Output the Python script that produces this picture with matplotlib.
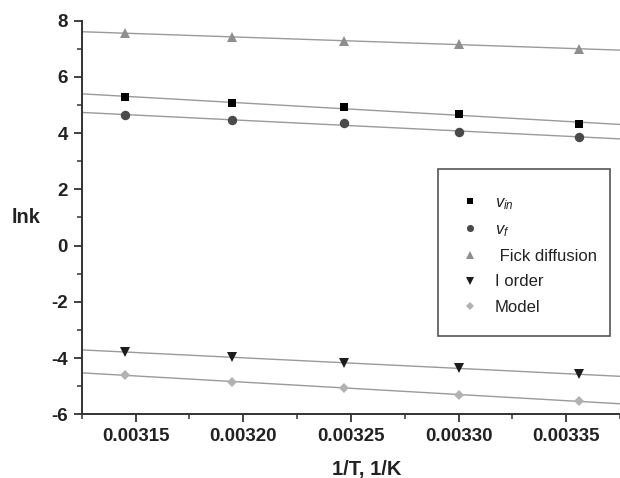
import numpy as np
import matplotlib
matplotlib.use("Agg")
import matplotlib.pyplot as plt
from matplotlib.patches import Rectangle
from matplotlib.ticker import MultipleLocator, FormatStrFormatter

plt.rcParams["font.family"] = ["Liberation Sans", "DejaVu Sans"]
plt.rcParams["mathtext.fontset"] = "custom"
plt.rcParams["mathtext.it"] = "Liberation Sans:italic"
plt.rcParams["mathtext.rm"] = "Liberation Sans"
plt.rcParams["axes.unicode_minus"] = False

# inverse temperature, 1/K (318, 313, 308, 303, 298 K)
inv_T = [0.003145, 0.003195, 0.003247, 0.003300, 0.003356]

# ln k for each kinetic description
lnk_vin = [5.29, 5.06, 4.93, 4.69, 4.33]
lnk_vf = [4.63, 4.47, 4.37, 4.03, 3.86]
lnk_fick = [7.55, 7.43, 7.28, 7.17, 6.99]
lnk_first = [-3.80, -3.95, -4.17, -4.37, -4.58]
lnk_model = [-4.60, -4.84, -5.08, -5.30, -5.53]

series = [
    (lnk_vin, r"$v_{in}$", "s", "#000000", 6.2),
    (lnk_vf, r"$v_{f}$", "o", "#4a4a4a", 6.8),
    (lnk_fick, " Fick diffusion", "^", "#8e8e8e", 7.0),
    (lnk_first, "I order", "v", "#1c1c1c", 7.0),
    (lnk_model, "Model", "D", "#b2b2b2", 5.4),
]

x_lo, x_hi = 0.003125, 0.003375

fig = plt.figure(figsize=(6.2, 4.78), dpi=100)
ax = fig.add_axes([0.1318, 0.1333, 0.8682, 0.8234])

x = np.array(inv_T)
xx = np.array([x_lo, x_hi])
handles = []
for vals, label, marker, color, ms in series:
    slope, icpt = np.polyfit(x, np.array(vals), 1)
    ax.plot(xx, slope * xx + icpt, color="#9a9a9a", lw=1.0, zorder=1)
    h, = ax.plot(x, vals, linestyle="none", marker=marker, color=color,
                 markersize=ms, markeredgewidth=0, label=label, zorder=3)
    handles.append(h)

ax.set_xlim(x_lo, x_hi)
ax.set_ylim(-6, 8)

ax.xaxis.set_major_locator(MultipleLocator(0.00005))
ax.xaxis.set_minor_locator(MultipleLocator(0.000025))
ax.xaxis.set_major_formatter(FormatStrFormatter("%.5f"))
ax.yaxis.set_major_locator(MultipleLocator(2))
ax.yaxis.set_minor_locator(MultipleLocator(1))

for side in ("top", "right"):
    ax.spines[side].set_visible(False)
for side in ("left", "bottom"):
    ax.spines[side].set_linewidth(1.4)
    ax.spines[side].set_color("#333333")

ax.tick_params(which="major", direction="out", length=6, width=1.3,
               color="#333333", labelsize=13.5, pad=4)
ax.tick_params(which="minor", direction="out", length=3.5, width=1.1,
               color="#333333")
for lab in ax.get_xticklabels() + ax.get_yticklabels():
    lab.set_fontweight("bold")
    lab.set_color("#222222")

ax.set_xlabel("1/T, 1/K", fontsize=14.5, fontweight="bold", color="#222222")
ax.xaxis.set_label_coords(0.529, -0.14)
ax.xaxis.label.set_va("center")
ax.set_ylabel("lnk", fontsize=14.5, fontweight="bold", color="#222222",
              rotation=0)
ax.yaxis.set_label_coords(-0.103, 0.5)
ax.yaxis.label.set_va("center")
ax.yaxis.label.set_ha("center")

# legend frame
ax_l, ax_b, ax_w, ax_h = 81.7, 414.3, 538.3, 393.6
def to_ax(px, py):
    return (px - ax_l) / ax_w, (ax_b - py) / ax_h

bx0, by0 = to_ax(437.7, 335.8)
bx1, by1 = to_ax(609.7, 169.3)
ax.add_patch(Rectangle((bx0, by0), bx1 - bx0, by1 - by0, transform=ax.transAxes,
                       fill=True, facecolor="white", edgecolor="#555555",
                       lw=1.2, zorder=4))

lx, ly = to_ax(462, 195)
leg = ax.legend(handles=handles, loc="upper left", bbox_to_anchor=(lx, ly),
                frameon=False, fontsize=12, markerscale=0.75,
                handlelength=1.0, handletextpad=0.95, labelspacing=0.62,
                borderpad=0.0, borderaxespad=0.0)
leg.set_zorder(5)
for t in leg.get_texts():
    t.set_color("#222222")

fig.savefig("out.png", dpi=100)
